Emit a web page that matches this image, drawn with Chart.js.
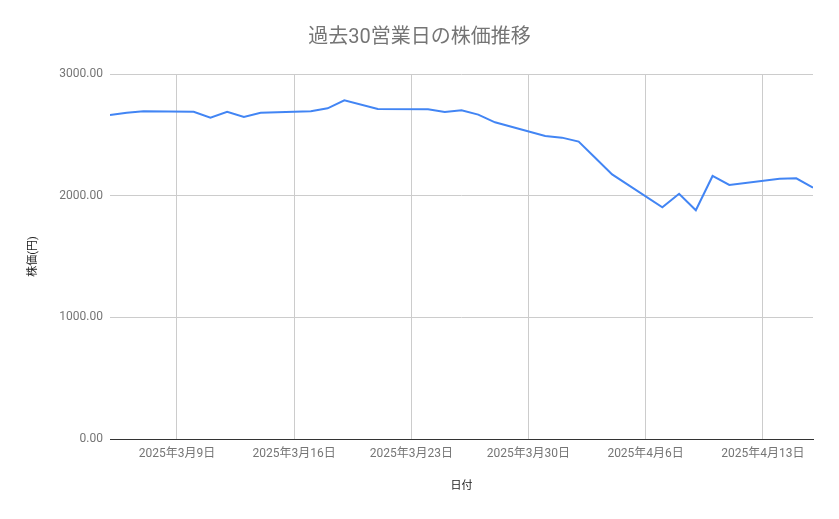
<!DOCTYPE html>
<html>
<head>
<meta charset="utf-8">
<script src="https://cdn.jsdelivr.net/npm/chart.js@4.4.1/dist/chart.umd.min.js"></script>
<style>
  html, body { margin: 0; padding: 0; background: #fff; }
  #wrap { width: 839px; height: 519px; position: relative; }
</style>
</head>
<body>
<div id="wrap"><canvas id="c" width="839" height="519"></canvas></div>
<script>
// ---- data ----
const chartTitle = '過去30営業日の株価推移';
const xTitle = '日付';
const yTitle = '株価(円)';
const dates = [
  '2025-03-05','2025-03-06','2025-03-07','2025-03-10','2025-03-11','2025-03-12','2025-03-13','2025-03-14',
  '2025-03-17','2025-03-18','2025-03-19','2025-03-21','2025-03-24','2025-03-25','2025-03-26','2025-03-27',
  '2025-03-28','2025-03-31','2025-04-01','2025-04-02','2025-04-03','2025-04-04','2025-04-07','2025-04-08',
  '2025-04-09','2025-04-10','2025-04-11','2025-04-14','2025-04-15','2025-04-16'
];
const prices = [
  2663, 2682, 2693, 2690, 2641, 2690, 2647, 2682,
  2693, 2718, 2784, 2712, 2710, 2688, 2702, 2666,
  2603, 2490, 2477, 2444, 2310, 2175, 1904, 2016,
  1880, 2162, 2088, 2140, 2143, 2066
];
const tickDates = ['2025-03-09','2025-03-16','2025-03-23','2025-03-30','2025-04-06','2025-04-13'];
const yTicks = [0, 1000, 2000, 3000];

// ---- helpers ----
const DAY = 86400000;
function toDay(s) { const [y, m, d] = s.split('-').map(Number); return Date.UTC(y, m - 1, d) / DAY; }
function fmtDate(v) {
  const dt = new Date(v * DAY);
  return dt.getUTCFullYear() + '年' + (dt.getUTCMonth() + 1) + '月' + dt.getUTCDate() + '日';
}
const points = dates.map((d, i) => ({ x: toDay(d), y: prices[i] }));
const xMin = toDay(dates[0]);
const xMax = toDay(dates[dates.length - 1]);
const tickVals = tickDates.map(toDay);

const FONT = "Roboto, 'Noto Sans CJK JP', sans-serif";

new Chart(document.getElementById('c'), {
  type: 'line',
  data: {
    datasets: [{
      data: points,
      borderColor: '#4285f4',
      borderWidth: 2,
      pointRadius: 0,
      pointHoverRadius: 0,
      tension: 0,
      fill: false
    }]
  },
  options: {
    responsive: false,
    animation: false,
    devicePixelRatio: 1,
    layout: { padding: { left: 0, right: 0, top: 0, bottom: 0 } },
    plugins: {
      legend: { display: false },
      tooltip: { enabled: false },
      title: {
        display: true,
        text: chartTitle,
        color: '#757575',
        font: { family: FONT, size: 20, weight: 'normal', lineHeight: 1.2 },
        padding: { top: 26, bottom: 24 }
      }
    },
    scales: {
      x: {
        type: 'linear',
        min: xMin,
        max: xMax,
        afterBuildTicks: (scale) => { scale.ticks = tickVals.map(v => ({ value: v })); },
        afterFit: (scale) => { scale.height = 80; },
        ticks: {
          autoSkip: false,
          maxRotation: 0,
          padding: 8,
          color: '#757575',
          font: { family: FONT, size: 12 },
          callback: (v) => fmtDate(v)
        },
        grid: { color: '#cccccc', drawTicks: false, lineWidth: 1 },
        border: { display: true, color: '#333333', width: 1 },
        title: {
          display: true,
          text: xTitle,
          color: '#222222',
          font: { family: FONT, size: 11 },
          padding: { top: 0, bottom: 26 }
        }
      },
      y: {
        min: 0,
        max: 3000,
        afterBuildTicks: (scale) => { scale.ticks = yTicks.map(v => ({ value: v })); },
        afterFit: (scale) => { scale.width = 110; },
        ticks: {
          padding: 7,
          color: '#757575',
          font: { family: FONT, size: 12 },
          callback: (v) => Number(v).toFixed(2)
        },
        grid: {
          drawTicks: false,
          color: (ctx) => (ctx.tick && ctx.tick.value === 0) ? '#333333' : '#cccccc',
          lineWidth: 1
        },
        border: { display: false },
        title: {
          display: true,
          text: yTitle,
          color: '#222222',
          font: { family: FONT, size: 11 },
          padding: { top: 27, bottom: 0 }
        }
      },
      yRight: {
        position: 'right',
        min: 0,
        max: 3000,
        afterFit: (scale) => { scale.width = 26; },
        ticks: { display: false },
        grid: { display: false, drawOnChartArea: false },
        border: { display: false }
      }
    }
  }
});
</script>
</body>
</html>
